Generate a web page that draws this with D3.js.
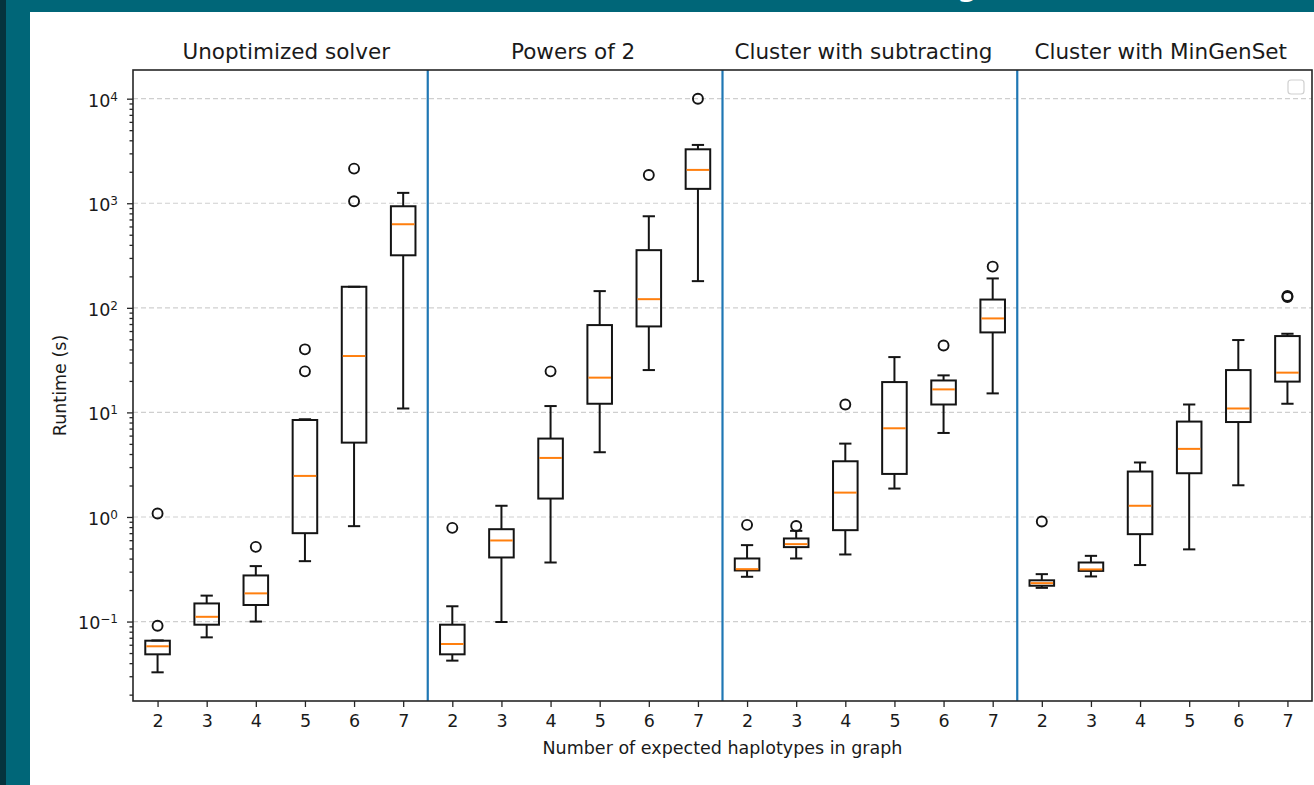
<!DOCTYPE html>
<html>
<head>
<meta charset="utf-8">
<script src="https://cdn.jsdelivr.net/npm/d3@7"></script>
<style>
body{margin:0;background:#006678;}
svg{display:block;}
text{font-family:"DejaVu Sans",sans-serif;fill:#1a1a1a;}
</style>
</head>
<body>
<svg id="chart" width="1314" height="785"></svg>
<script>
(function(){
var haplotypes = [2, 3, 4, 5, 6, 7];
var panelTitles = ['Unoptimized solver', 'Powers of 2', 'Cluster with subtracting', 'Cluster with MinGenSet'];

// each row: [whisker low, q1, median, q3, whisker high]
var unoptimized = [
  [0.0327, 0.0486, 0.058, 0.0656, 0.066],
  [0.0706, 0.0933, 0.111, 0.149, 0.177],
  [0.100, 0.144, 0.186, 0.276, 0.339],
  [0.378, 0.70, 2.47, 8.46, 8.6],
  [0.817, 5.14, 34.6, 159, 159],
  [10.9, 318, 630, 936, 1257]
];
var unoptimizedFliers = [[0.0912, 1.08], [], [0.518], [24.7, 40.1], [1045, 2145], []];

var powersOf2 = [
  [0.0423, 0.0486, 0.061, 0.0933, 0.140],
  [0.099, 0.410, 0.596, 0.764, 1.28],
  [0.367, 1.50, 3.67, 5.62, 11.5],
  [4.16, 12.1, 21.5, 68.4, 144.5],
  [25.4, 66.4, 121, 356, 751],
  [180, 1373, 2084, 3280, 3612]
];
var powersOf2Fliers = [[0.787], [], [24.7], [], [1866], [10000]];

var clusterSubtract = [
  [0.268, 0.308, 0.317, 0.401, 0.538],
  [0.401, 0.515, 0.550, 0.623, 0.737],
  [0.438, 0.748, 1.71, 3.41, 5.03],
  [1.87, 2.58, 7.05, 19.5, 33.8],
  [6.36, 11.9, 16.6, 20.2, 22.6],
  [15.2, 58.2, 79.2, 120, 191]
];
var clusterSubtractFliers = [[0.841], [0.82], [11.9], [], [43.7], [248]];

var clusterMinGen = [
  [0.210, 0.220, 0.233, 0.248, 0.284],
  [0.270, 0.305, 0.315, 0.367, 0.425],
  [0.347, 0.685, 1.28, 2.72, 3.32],
  [0.49, 2.62, 4.48, 8.17, 11.9],
  [2.01, 8.09, 10.9, 25.4, 49.2],
  [12.1, 19.7, 24.0, 53.7, 56.5]
];
var clusterMinGenFliers = [[0.905], [], [], [], [], [127, 130]];

var majorTicks = [-1, 0, 1, 2, 3, 4];

var panels = [
  {stats: unoptimized, fliers: unoptimizedFliers},
  {stats: powersOf2, fliers: powersOf2Fliers},
  {stats: clusterSubtract, fliers: clusterSubtractFliers},
  {stats: clusterMinGen, fliers: clusterMinGenFliers}
];

var left = 133, right = 1312, top = 70, bottom = 701,
  boxW = 0.5, capW = 0.25,
  titleX = [3.62, 9.46, 15.37, 21.42];

var svg = d3.select('#chart');

// page background pieces
svg.append('rect').attr('x', 0).attr('y', 0).attr('width', 1314).attr('height', 785).attr('fill', '#006678');
svg.append('rect').attr('x', 0).attr('y', 0).attr('width', 6).attr('height', 785).attr('fill', '#05333d');
svg.append('text').attr('x', 956).attr('y', -5).style('font-size', '36px').style('fill', '#fff').text('g');
svg.append('rect').attr('x', 30).attr('y', 12).attr('width', 1284).attr('height', 773).attr('fill', '#fff');

// flatten
var boxes = [];
panels.forEach(function(p, pi){
  p.stats.forEach(function(s, i){
    boxes.push({pos: pi * 6 + i + 1, s: s, fl: p.fliers[i]});
  });
});

var all = [];
boxes.forEach(function(b){ all = all.concat(b.s, b.fl); });
var lmin = Math.log10(d3.min(all)), lmax = Math.log10(d3.max(all)), pad = (lmax - lmin) * 0.05;

var x = d3.scaleLinear().domain([0.5, 24.5]).range([left, right]);
var y = d3.scaleLog().domain([Math.pow(10, lmin - pad), Math.pow(10, lmax + pad)]).range([bottom, top]);

// grid
svg.append('g').selectAll('line').data(majorTicks).enter().append('line')
  .attr('x1', left).attr('x2', right)
  .attr('y1', function(d){ return y(Math.pow(10, d)); })
  .attr('y2', function(d){ return y(Math.pow(10, d)); })
  .attr('stroke', '#cfcfcf').attr('stroke-width', 1.2).attr('stroke-dasharray', '5,3');

// panel separators
svg.append('g').selectAll('line').data([6.5, 12.5, 18.5]).enter().append('line')
  .attr('x1', function(d){ return x(d); }).attr('x2', function(d){ return x(d); })
  .attr('y1', top).attr('y2', bottom)
  .attr('stroke', '#1f77b4').attr('stroke-width', 2.2);

// boxes
var g = svg.append('g').selectAll('g').data(boxes).enter().append('g');
var stroke = '#141414', sw = 2;
g.append('line')
  .attr('x1', function(d){ return x(d.pos); }).attr('x2', function(d){ return x(d.pos); })
  .attr('y1', function(d){ return y(d.s[0]); }).attr('y2', function(d){ return y(d.s[1]); })
  .attr('stroke', stroke).attr('stroke-width', sw);
g.append('line')
  .attr('x1', function(d){ return x(d.pos); }).attr('x2', function(d){ return x(d.pos); })
  .attr('y1', function(d){ return y(d.s[3]); }).attr('y2', function(d){ return y(d.s[4]); })
  .attr('stroke', stroke).attr('stroke-width', sw);
[0, 4].forEach(function(k){
  g.append('line')
    .attr('x1', function(d){ return x(d.pos - capW / 2); }).attr('x2', function(d){ return x(d.pos + capW / 2); })
    .attr('y1', function(d){ return y(d.s[k]); }).attr('y2', function(d){ return y(d.s[k]); })
    .attr('stroke', stroke).attr('stroke-width', sw);
});
g.append('rect')
  .attr('x', function(d){ return x(d.pos - boxW / 2); })
  .attr('width', x(1 + boxW) - x(1))
  .attr('y', function(d){ return y(d.s[3]); })
  .attr('height', function(d){ return y(d.s[1]) - y(d.s[3]); })
  .attr('fill', 'none').attr('stroke', stroke).attr('stroke-width', sw);
g.append('line')
  .attr('x1', function(d){ return x(d.pos - boxW / 2) + 1; }).attr('x2', function(d){ return x(d.pos + boxW / 2) - 1; })
  .attr('y1', function(d){ return y(d.s[2]); }).attr('y2', function(d){ return y(d.s[2]); })
  .attr('stroke', '#ff7f0e').attr('stroke-width', sw);
g.selectAll('circle').data(function(d){ return d.fl.map(function(v){ return {pos: d.pos, v: v}; }); })
  .enter().append('circle')
  .attr('cx', function(d){ return x(d.pos); }).attr('cy', function(d){ return y(d.v); })
  .attr('r', 5).attr('fill', 'none').attr('stroke', stroke).attr('stroke-width', 1.9);

// frame
svg.append('rect').attr('x', left).attr('y', top).attr('width', right - left).attr('height', bottom - top)
  .attr('fill', 'none').attr('stroke', '#262626').attr('stroke-width', 1.6);

// y axis: minor ticks
var minor = [];
for(var e = -2; e <= 4; e++) for(var m = 2; m <= 9; m++){
  var v = m * Math.pow(10, e);
  if(v >= y.domain()[0] && v <= y.domain()[1]) minor.push(v);
}
var yMinor = svg.append('g').attr('transform', 'translate(' + left + ',0)')
  .call(d3.axisLeft(y).tickValues(minor).tickSize(3.5).tickFormat(''));
var yMajor = svg.append('g').attr('transform', 'translate(' + left + ',0)')
  .call(d3.axisLeft(y).tickValues(majorTicks.map(function(d){ return Math.pow(10, d); })).tickSize(6).tickFormat(''));
[yMinor, yMajor].forEach(function(a){
  a.select('.domain').remove();
  a.selectAll('line').attr('stroke', '#262626').attr('stroke-width', 1.3);
});
var yl = svg.append('g').selectAll('text').data(majorTicks).enter().append('text')
  .attr('x', 118).attr('y', function(d){ return y(Math.pow(10, d)); })
  .attr('dy', '0.45em').attr('text-anchor', 'end').style('font-size', '17.5px');
yl.append('tspan').text('10');
yl.append('tspan').attr('dy', '-0.5em').style('font-size', '12px')
  .text(function(d){ return String(d).replace('-', '\u2212'); });

// x axis
var xAxis = svg.append('g').attr('transform', 'translate(0,' + bottom + ')')
  .call(d3.axisBottom(x).tickValues(d3.range(1, 25)).tickSize(6).tickPadding(8)
    .tickFormat(function(d){ return haplotypes[(d - 1) % 6]; }));
xAxis.select('.domain').remove();
xAxis.selectAll('line').attr('stroke', '#262626').attr('stroke-width', 1.3);
xAxis.selectAll('text').style('font-size', '17.5px').style('font-family', '"DejaVu Sans",sans-serif').attr('fill', '#1a1a1a');

// titles and labels
svg.append('g').selectAll('text').data(panelTitles).enter().append('text')
  .attr('x', function(d, i){ return x(titleX[i]); }).attr('y', 59)
  .attr('text-anchor', 'middle').style('font-size', '21.5px').text(function(d){ return d; });
svg.append('text').attr('x', x(12.5)).attr('y', 754).attr('text-anchor', 'middle')
  .style('font-size', '17.5px').text('Number of expected haplotypes in graph');
svg.append('text').attr('transform', 'translate(66,' + ((top + bottom) / 2) + ') rotate(-90)')
  .attr('text-anchor', 'middle').style('font-size', '17.5px').text('Runtime (s)');

// empty legend box
svg.append('rect').attr('x', 1288).attr('y', 80).attr('width', 16).attr('height', 14).attr('rx', 3)
  .attr('fill', '#fff').attr('stroke', '#d0d0d0').attr('stroke-width', 1.2);
})();
</script>
</body>
</html>
